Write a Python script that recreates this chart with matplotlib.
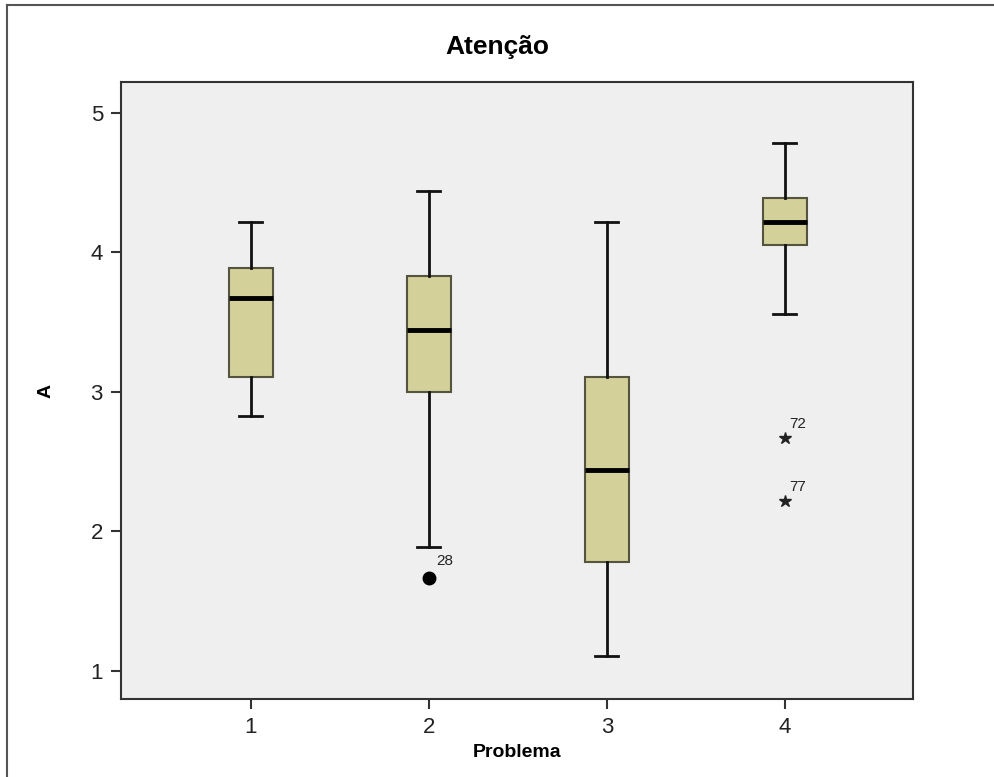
import matplotlib
matplotlib.use('Agg')
import matplotlib.pyplot as plt
from matplotlib.lines import Line2D

plt.rcParams['font.family'] = ['Liberation Sans', 'DejaVu Sans']

# valores
grupos = [1, 2, 3, 4]
lim_inf = [2.83, 1.89, 1.11, 3.56]
q1 = [3.11, 3.00, 1.78, 4.05]
mediana = [3.67, 3.44, 2.44, 4.22]
q3 = [3.89, 3.83, 3.11, 4.39]
lim_sup = [4.22, 4.44, 4.22, 4.78]

# outliers (circulo) e extremos (estrela)
out_x = [2]
out_y = [1.67]
out_id = ['28']
ext_x = [4, 4]
ext_y = [2.67, 2.22]
ext_id = ['72', '77']

fig = plt.figure(figsize=(9.94, 7.77), dpi=100)
fig.patch.set_facecolor('white')
ax = fig.add_axes([121/994, 78/777, 792/994, 617/777])
ax.set_facecolor('#efefef')

stats = []
for i in range(len(grupos)):
    stats.append({'whislo': lim_inf[i], 'q1': q1[i], 'med': mediana[i],
                  'q3': q3[i], 'whishi': lim_sup[i], 'fliers': []})

ax.bxp(stats, positions=grupos, widths=0.25, capwidths=0.13, patch_artist=True,
       showfliers=False,
       boxprops=dict(facecolor='#d4d09a', edgecolor='#55553f', linewidth=1.5),
       medianprops=dict(color='black', linewidth=3.5),
       whiskerprops=dict(color='#111111', linewidth=2),
       capprops=dict(color='#111111', linewidth=2))

ax.plot(out_x, out_y, 'o', color='black', markersize=9)
for x, y, t in zip(out_x, out_y, out_id):
    ax.annotate(t, (x, y), xytext=(5, 9), textcoords='offset points',
                fontsize=11, color='#222222')
ax.plot(ext_x, ext_y, '*', color='#222222', markersize=9)
for x, y, t in zip(ext_x, ext_y, ext_id):
    ax.annotate(t, (x, y), xytext=(3, 7), textcoords='offset points',
                fontsize=11, color='#222222')

ax.set_xlim(0.27, 4.72)
ax.set_ylim(0.80, 5.22)
ax.set_xticks(grupos)
ax.set_xticklabels([str(g) for g in grupos])
ax.set_yticks([1, 2, 3, 4, 5])
ax.tick_params(axis='both', length=7, width=1.5, color='#333333', labelsize=16,
               labelcolor='#222222', pad=6)
for s in ax.spines.values():
    s.set_color('#333333')
    s.set_linewidth(1.5)

ax.set_xlabel('Problema', fontsize=14, fontweight='bold', labelpad=4)
ax.set_ylabel('A', fontsize=14, fontweight='bold', labelpad=26)
fig.text(497/994, 1 - 47/777, 'Atenção', ha='center', va='center',
         fontsize=19, fontweight='bold')

# moldura externa
fig.add_artist(Line2D([7/994, 1.0], [1 - 5/777, 1 - 5/777], color='#555555', linewidth=1.5))
fig.add_artist(Line2D([7/994, 7/994], [0.0, 1 - 5/777], color='#555555', linewidth=1.5))

fig.savefig('out.png', dpi=100)
